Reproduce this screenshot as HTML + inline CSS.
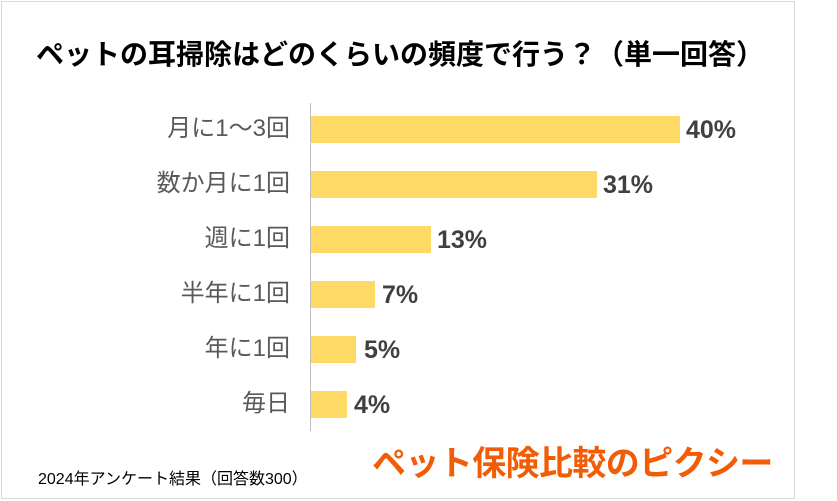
<!DOCTYPE html>
<html><head><meta charset="utf-8"><style>
body{margin:0;width:837px;height:501px;background:#fff;position:relative;overflow:hidden;font-family:"Liberation Sans","Noto Sans CJK JP",sans-serif}
.box{position:absolute;left:1px;top:1px;width:792px;height:496px;border:1px solid #d9d9d9}
.t{position:absolute;left:0;width:800px;top:33px;text-align:center;font-size:28px;font-weight:bold;color:#000;white-space:nowrap}
.lab{position:absolute;right:547px;font-size:24px;line-height:28px;color:#595959;white-space:nowrap}
.bar{position:absolute;left:311px;height:27px;background:#ffd966}
.val{position:absolute;font-size:25px;line-height:28px;font-weight:bold;color:#404040}
.axis{position:absolute;left:310px;top:103px;width:1px;height:328px;background:#bfbfbf}
</style></head><body>
<div class="box"></div>
<div class="t">ペットの耳掃除はどのくらいの頻度で行う？（単一回答）</div>
<div class="axis"></div>
<div class="lab" style="top:115px">月に1～3回</div><div class="bar" style="top:116px;width:369px"></div><div class="val" style="top:116px;left:686px">40%</div>
<div class="lab" style="top:170px">数か月に1回</div><div class="bar" style="top:171px;width:286px"></div><div class="val" style="top:171px;left:603px">31%</div>
<div class="lab" style="top:225px">週に1回</div><div class="bar" style="top:226px;width:120px"></div><div class="val" style="top:226px;left:437px">13%</div>
<div class="lab" style="top:280px">半年に1回</div><div class="bar" style="top:281px;width:64px"></div><div class="val" style="top:281px;left:382px">7%</div>
<div class="lab" style="top:335px">年に1回</div><div class="bar" style="top:336px;width:45px"></div><div class="val" style="top:336px;left:364px">5%</div>
<div class="lab" style="top:390px">毎日</div><div class="bar" style="top:391px;width:36px"></div><div class="val" style="top:391px;left:354px">4%</div>
<div style="position:absolute;left:38px;top:465px;font-size:16px;color:#000;white-space:nowrap">2024年アンケート結果（回答数300）</div>
<div style="position:absolute;left:372px;top:436px;font-size:34px;font-weight:bold;color:#f25c05;letter-spacing:-0.6px;white-space:nowrap">ペット保険比較のピクシー</div>
</body></html>
